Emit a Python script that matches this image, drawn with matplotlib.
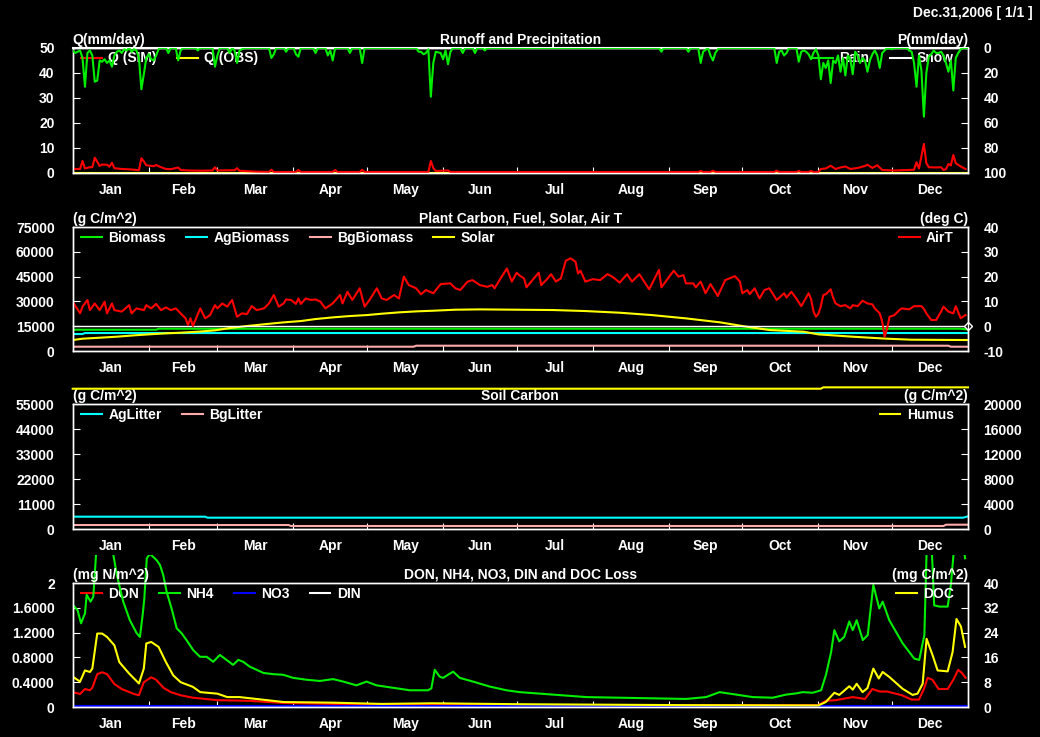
import numpy as np
import matplotlib.pyplot as plt
from matplotlib.lines import Line2D
from matplotlib.patches import Rectangle

plt.rcParams['font.family'] = ['Liberation Sans', 'DejaVu Sans']
plt.rcParams['font.weight'] = 'bold'
plt.rcParams['font.size'] = 10

month_names = ['Jan', 'Feb', 'Mar', 'Apr', 'May', 'Jun',
               'Jul', 'Aug', 'Sep', 'Oct', 'Nov', 'Dec']
month_len = [31, 28, 31, 30, 31, 30, 31, 31, 30, 31, 30, 31]
stamp = 'Dec.31,2006 [ 1/1 ]'

# ---- Runoff and precipitation (day, mm/day)
q_sim = [(0, 1.6), (3, 1.6), (4, 4.8), (5, 1.8), (7, 2.3), (8, 2.3), (9, 6.1), (10, 4.5), (11, 2.8),
         (12, 3.4), (13, 3.3), (14, 3.3), (15, 2.5), (16, 4.1), (17, 1.9), (20, 1.6), (24, 1.4),
         (27, 1.1), (28, 5.9), (29, 4.6), (30, 3.1), (33, 2.7), (34, 3.2), (36, 2.3), (38, 1.6),
         (40, 1.5), (43, 2.2), (44, 1.2), (47, 1.0), (52, 0.9), (57, 1.0), (58, 2.3), (59, 1.0),
         (66, 1.1), (67, 1.9), (68, 0.9), (75, 0.5), (80, 0.4), (81, 1.3), (82, 0.4), (91, 0.4),
         (92, 1.2), (93, 0.4), (106, 0.4), (107, 1.2), (108, 0.4), (117, 0.4), (118, 1.3), (119, 0.4),
         (145, 0.4), (146, 4.8), (147, 2.0), (148, 0.8), (153, 1.0), (154, 0.4), (255, 0.4), (256, 0.8),
         (257, 0.4), (260, 0.4), (261, 0.9), (262, 0.4), (286, 0.4), (287, 0.9), (288, 0.4), (295, 0.4),
         (296, 0.8), (297, 0.4), (300, 0.4), (301, 0.8), (302, 0.4), (304, 0.4), (305, 1.6), (307, 1.8),
         (309, 2.9), (311, 1.6), (313, 2.2), (315, 2.6), (317, 1.6), (320, 2.0), (323, 2.8), (324, 3.3),
         (326, 2.0), (328, 3.1), (330, 1.2), (335, 1.0), (341, 1.2), (343, 1.3), (344, 4.3), (345, 1.8),
         (347, 11.6), (348, 4.0), (349, 2.3), (352, 2.2), (354, 2.3), (355, 1.2), (356, 1.5), (357, 3.6),
         (358, 3.0), (359, 7.2), (360, 3.9), (362, 2.6), (364, 1.6)]
q_obs = [(0, 0.0), (365, 0.0)]
rain = [(0, 2), (1, 4), (2, 3), (3, 2), (4, 8), (5, 31), (6, 4), (7, 2), (8, 6), (9, 27), (10, 26),
        (11, 10), (12, 11), (13, 9), (14, 12), (15, 10), (16, 15), (17, 6), (18, 3), (19, 2), (20, 4),
        (21, 1), (22, 2), (23, 0), (24, 3), (25, 1), (26, 2), (27, 8), (28, 33), (29, 21), (30, 8),
        (31, 5), (32, 9), (33, 10), (34, 6), (35, 1), (36, 0), (38, 0), (39, 4), (40, 0), (42, 0),
        (43, 10), (44, 2), (45, 0), (50, 0), (51, 2), (52, 0), (57, 0), (58, 15), (59, 6), (60, 0),
        (63, 0), (64, 4), (65, 0), (66, 2), (67, 12), (68, 2), (69, 1), (70, 0), (80, 0), (81, 8),
        (82, 5), (83, 0), (86, 0), (87, 3), (88, 0), (90, 0), (91, 5), (92, 7), (93, 0), (98, 0),
        (99, 4), (100, 0), (103, 0), (104, 6), (105, 2), (106, 10), (107, 0), (112, 0), (113, 4),
        (114, 0), (117, 0), (118, 12), (119, 0), (140, 0), (141, 3), (142, 3), (143, 5), (144, 4),
        (145, 1), (146, 39), (147, 12), (148, 3), (150, 4), (151, 9), (152, 2), (153, 13), (154, 3),
        (155, 0), (158, 0), (159, 4), (160, 0), (163, 0), (164, 4), (165, 0), (167, 0), (168, 2),
        (169, 0), (239, 0), (240, 3), (241, 0), (250, 0), (251, 3), (252, 0), (255, 0), (256, 12),
        (257, 3), (259, 0), (260, 6), (261, 10), (262, 4), (263, 1), (264, 0), (286, 0), (287, 12),
        (288, 3), (289, 2), (290, 6), (291, 4), (292, 0), (295, 0), (296, 11), (297, 3), (298, 2),
        (299, 3), (300, 5), (301, 9), (302, 4), (303, 1), (304, 6), (305, 25), (306, 12), (307, 16),
        (308, 10), (309, 28), (310, 10), (311, 12), (312, 6), (313, 19), (314, 8), (315, 22),
        (316, 6), (317, 9), (318, 21), (319, 3), (320, 6), (321, 12), (322, 8), (323, 10), (324, 19),
        (325, 10), (326, 5), (327, 2), (328, 6), (329, 16), (330, 4), (331, 2), (332, 0), (334, 1),
        (335, 0), (340, 0), (341, 2), (342, 3), (343, 12), (344, 31), (345, 6), (346, 18), (347, 55),
        (348, 20), (349, 7), (350, 5), (351, 2), (352, 4), (353, 4), (354, 3), (355, 6), (356, 12),
        (357, 19), (358, 10), (359, 34), (360, 8), (361, 4), (362, 1), (363, 0), (365, 0)]
snow = [(0, 0), (365, 0)]

# ---- Plant carbon (g C/m^2), solar, air temperature (deg C)
biomass = [(0, 12900), (34, 12900), (35, 13500), (362, 13500), (365, 13000)]
ag_biomass = [(0, 10280), (4, 10280), (5, 10890), (365, 10890)]
bg_biomass = [(0, 2620), (139, 2620), (140, 3220), (357, 3220), (358, 2620), (365, 2620)]
solar = [(0, 6650), (4, 7460), (11, 8060), (18, 8670), (25, 9480), (31, 10080), (38, 10690),
         (44, 11090), (52, 11800), (58, 12500), (64, 13900), (71, 15120), (79, 16330), (86, 17340),
         (93, 18140), (99, 19350), (106, 20360), (113, 21170), (120, 21770), (126, 22580),
         (133, 23390), (140, 23990), (147, 24390), (156, 25000), (166, 25200), (196, 24800),
         (209, 24190), (223, 23180), (236, 21770), (250, 19760), (264, 17340), (273, 15120),
         (284, 12700), (298, 11690), (304, 10080), (318, 8670), (332, 7460), (342, 6850), (365, 6650)]
air_t = [(0, 9.9), (3, 5.2), (4, 7.9), (6, 10.6), (7, 6.5), (9, 9.2), (11, 6.5), (13, 9.9), (14, 5.2),
         (16, 9.2), (17, 6.5), (20, 5.9), (23, 8.5), (24, 5.2), (26, 7.2), (29, 6.5), (30, 8.5),
         (32, 7.2), (34, 9.0), (36, 6.5), (38, 7.6), (40, 6.5), (42, 7.2), (44, 5.2), (46, 3.2),
         (47, 0.5), (48, 3.2), (49, 0.1), (50, 2.5), (52, 7.2), (54, 3.2), (56, 4.5), (58, 8.5),
         (59, 7.2), (61, 9.2), (63, 7.9), (65, 10.6), (67, 3.8), (69, 5.2), (71, 4.9), (73, 8.1),
         (75, 6.5), (78, 7.2), (80, 9.2), (82, 12.6), (84, 7.9), (86, 9.2), (87, 10.8), (89, 10.6),
         (91, 9.0), (92, 11.2), (93, 9.0), (95, 11.2), (97, 10.6), (99, 10.8), (101, 9.9), (103, 7.2),
         (106, 9.2), (109, 12.6), (110, 9.2), (112, 13.9), (114, 10.6), (117, 15.3), (119, 7.9),
         (121, 10.6), (124, 15.3), (126, 11.2), (128, 10.6), (131, 12.6), (133, 11.2), (135, 20.0),
         (137, 16.6), (140, 15.3), (142, 12.9), (144, 14.6), (147, 13.3), (150, 17.0), (154, 17.3),
         (156, 15.3), (158, 14.6), (161, 18.0), (163, 18.6), (166, 16.6), (169, 15.9), (171, 16.6),
         (172, 15.3), (174, 18.6), (177, 23.3), (179, 18.0), (181, 21.6), (182, 20.6), (184, 19.3),
         (185, 15.7), (188, 19.3), (190, 21.6), (191, 16.6), (193, 18.6), (195, 21.0), (197, 18.0),
         (199, 19.3), (201, 26.4), (203, 27.4), (205, 26.0), (206, 21.3), (207, 22.4), (209, 18.0),
         (212, 19.0), (215, 18.6), (218, 21.0), (220, 20.0), (223, 17.6), (226, 21.0), (228, 18.0),
         (231, 21.0), (235, 14.9), (239, 22.7), (240, 15.7), (245, 22.4), (247, 20.0), (249, 20.6),
         (250, 17.3), (253, 17.3), (254, 15.7), (256, 18.0), (258, 13.3), (260, 17.0), (263, 12.2),
         (266, 18.6), (270, 20.2), (272, 18.0), (273, 13.3), (275, 14.6), (276, 13.0), (278, 15.3),
         (280, 11.2), (282, 14.6), (284, 15.3), (287, 10.6), (290, 13.3), (291, 11.6), (293, 13.9),
         (295, 11.2), (297, 8.1), (299, 11.6), (300, 13.3), (301, 11.0), (302, 6.0), (303, 3.8),
         (304, 5.0), (305, 8.1), (306, 12.6), (307, 12.9), (309, 14.9), (310, 11.5), (311, 9.2),
         (313, 8.1), (315, 8.5), (317, 7.2), (318, 8.5), (320, 8.1), (322, 10.3), (324, 9.2),
         (326, 8.8), (327, 7.2), (329, 5.2), (330, 2.0), (331, -4.2), (332, -1.0), (333, 3.8),
         (335, 4.5), (337, 6.5), (338, 7.2), (341, 6.8), (343, 8.1), (346, 8.1), (347, 7.0),
         (348, 5.2), (350, 2.5), (352, 2.5), (354, 5.9), (355, 7.9), (357, 5.9), (359, 5.2),
         (360, 8.1), (362, 3.2), (364, 4.5)]

# ---- Soil carbon (g C/m^2)
ag_litter = [(0, 5430), (54, 5430), (55, 4990), (363, 4990), (365, 5570)]
bg_litter = [(0, 1760), (88, 1760), (89, 1320), (355, 1320), (356, 1900), (365, 1900)]
humus = [(0, 22450), (305, 22450), (306, 22670), (365, 22670)]

# ---- N and C losses (mg N/m^2, mg C/m^2)
don = [(0, 0.24), (3, 0.21), (5, 0.29), (7, 0.27), (8, 0.31), (10, 0.53), (12, 0.56), (14, 0.53),
       (17, 0.37), (20, 0.29), (25, 0.21), (27, 0.19), (29, 0.40), (32, 0.48), (34, 0.44), (37, 0.31),
       (40, 0.24), (44, 0.19), (49, 0.15), (59, 0.11), (72, 0.10), (86, 0.065), (106, 0.05),
       (126, 0.03), (147, 0.04), (182, 0.03), (304, 0.03), (307, 0.10), (311, 0.11), (318, 0.16),
       (323, 0.13), (326, 0.29), (329, 0.25), (332, 0.25), (338, 0.19), (342, 0.12), (345, 0.12),
       (347, 0.29), (348.5, 0.47), (350.5, 0.44), (353, 0.29), (356.7, 0.29), (359, 0.44),
       (361, 0.60), (362.5, 0.55), (364, 0.47)]
nh4 = [(0, 1.65), (2, 1.56), (3.4, 1.35), (5, 1.51), (5.7, 1.81), (7.3, 1.70), (8.4, 1.78),
       (9.5, 2.45), (11, 2.9), (13, 3.1), (15, 2.9), (16.6, 2.45), (18, 2.13), (20.6, 1.70),
       (23.3, 1.40), (26.1, 1.19), (27.4, 1.13), (28.5, 1.48), (29.2, 1.75), (30.2, 2.40),
       (31.5, 2.47), (34.2, 2.37), (35.6, 2.29), (36.9, 2.13), (38.3, 1.86), (40.3, 1.59),
       (42.4, 1.27), (44.4, 1.19), (46.4, 1.08), (49.1, 0.92), (51.9, 0.81), (54.6, 0.81),
       (57.3, 0.73), (60, 0.84), (62.7, 0.76), (65.4, 0.68), (67.5, 0.76), (69.5, 0.73),
       (72.2, 0.65), (75, 0.60), (77.7, 0.55), (81.7, 0.53), (85.8, 0.52), (89.9, 0.47),
       (95.3, 0.44), (100.7, 0.42), (106.2, 0.45), (110.3, 0.41), (115.7, 0.35), (119.8, 0.41),
       (123.8, 0.35), (130.6, 0.31), (137.4, 0.27), (144.9, 0.27), (146.2, 0.30), (147.6, 0.60),
       (149.6, 0.49), (151, 0.47), (153, 0.52), (155.1, 0.57), (157.8, 0.47), (163.2, 0.41),
       (170, 0.33), (176.8, 0.27), (182.2, 0.24), (195.8, 0.20), (209.4, 0.16), (222.9, 0.15),
       (236.5, 0.14), (250.1, 0.13), (258.2, 0.16), (263.7, 0.24), (270.5, 0.20), (277.2, 0.16),
       (285.4, 0.15), (290.8, 0.20), (295, 0.22), (297.6, 0.24), (301.7, 0.23), (305.1, 0.27),
       (307.1, 0.52), (309.2, 0.89), (310.5, 1.24), (312.5, 1.06), (314.5, 1.13), (316.6, 1.38),
       (318, 1.24), (319.6, 1.40), (322.1, 1.08), (324.1, 1.16), (326.4, 1.97), (328.8, 1.59),
       (330.2, 1.70), (332.9, 1.40), (338.3, 1.03), (343.1, 0.78), (345.1, 0.76), (347.2, 1.16),
       (348.1, 2.5), (349.5, 3.0), (350.5, 2.3), (351.2, 1.64), (353.3, 1.62), (356.7, 1.62),
       (358, 1.97), (359.4, 2.6), (361, 3.0), (362.8, 2.7), (363.8, 2.4)]
no3 = [(0, 0.015), (365, 0.015)]
doc = [(0, 9.8), (3, 8.2), (5, 11.8), (7, 11.3), (8, 12.4), (10, 23.7), (12, 23.7), (14, 22.6),
       (17, 19.9), (19, 14.5), (23, 10.8), (27, 7.6), (29, 12.4), (30, 20.5), (32, 21.0), (35, 19.4),
       (38, 14.5), (41, 10.2), (44, 8.0), (49, 6.5), (52, 4.8), (59, 4.3), (63, 3.2), (68, 3.2),
       (76, 2.5), (86, 1.6), (106, 1.4), (126, 1.0), (147, 1.2), (182, 0.9), (250, 0.6), (304, 0.5),
       (307, 1.6), (310.5, 4.6), (312.5, 3.9), (316.6, 6.7), (318, 5.6), (319.6, 7.5), (322, 4.8),
       (324, 6.1), (326.4, 12.4), (328.6, 9.2), (330.2, 11.3), (332.9, 9.7), (338.3, 5.9),
       (342.4, 3.9), (344.4, 4.3), (346.5, 7.5), (348.1, 22.0), (350.6, 16.6), (352.6, 11.8),
       (356.7, 11.5), (358.7, 17.7), (360.3, 28.4), (362.1, 26.0), (363.8, 19.4)]

n_ticks = [0, 0.4, 0.8, 1.2, 1.6, 2]
n_labels = ['0', '0.4000', '0.8000', '1.2000', '1.6000', '2']

FG = 'white'
LW = 1.5


def xy(pairs):
    a = np.array(pairs, dtype=float)
    return a[:, 0], a[:, 1]


fig = plt.figure(figsize=(10.4, 7.37), dpi=100, facecolor='black')
left, width = 0.0699, 0.8609
rows = [(0.7653, 0.1696), (0.5237, 0.1682), (0.2822, 0.1696), (0.0407, 0.1682)]

bounds = np.cumsum([0] + month_len)
mids = (bounds[:-1] + bounds[1:]) / 2


def make_panel(row, title, lunit, runit, lticks, llabels, rticks, rlabels):
    ax = fig.add_axes([left, rows[row][0], width, rows[row][1]])
    ax.set_facecolor('black')
    axr = ax.twinx()
    for a in (ax, axr):
        for s in a.spines.values():
            s.set_color(FG)
            s.set_linewidth(1.0)
    ax.set_xlim(0, 365)
    ax.set_xticks(bounds[1:-1])
    ax.set_xticklabels([])
    ax.set_xticks(mids, minor=True)
    ax.set_xticklabels(month_names, minor=True)
    ax.tick_params(axis='x', which='major', direction='in', length=4, color=FG, top=False)
    ax.tick_params(axis='x', which='minor', length=0, pad=7, labelcolor=FG, labelsize=10)
    ax.set_yticks(lticks)
    ax.set_yticklabels(llabels)
    ax.set_ylim(lticks[0], lticks[-1])
    ax.tick_params(axis='y', direction='in', length=5, color=FG, labelcolor=FG, pad=13)
    axr.set_yticks(rticks)
    axr.set_yticklabels(rlabels)
    axr.tick_params(axis='y', direction='in', length=5, color=FG, labelcolor=FG, pad=11)
    for lab in ax.get_yticklabels() + axr.get_yticklabels() + ax.get_xticklabels(minor=True):
        lab.set_fontweight('bold')
    ax.set_title(title, color=FG, pad=3, fontweight='bold', fontsize=10)
    ax.set_title(lunit, loc='left', color=FG, pad=3, fontweight='bold', fontsize=10)
    ax.set_title(runit, loc='right', color=FG, pad=3, fontweight='bold', fontsize=10)
    return ax, axr


def add_legend(ax, side, handles=None, labels=None):
    if handles is None:
        handles, labels = ax.get_legend_handles_labels()
    if side == 'left':
        loc, anchor = 'upper left', (0.0095, 0.972)
    else:
        loc, anchor = 'upper right', (0.984, 0.972)
    leg = ax.legend(handles, labels, loc=loc, bbox_to_anchor=anchor, ncol=len(handles),
                    frameon=False, handlelength=1.5, handletextpad=0.45, columnspacing=1.45,
                    borderaxespad=0, borderpad=0, prop={'weight': 'bold', 'size': 10},
                    labelcolor=FG)
    leg.set_zorder(1)
    return leg


def ticks(lo, hi, step):
    t = np.arange(lo, hi + step / 2, step)
    return t, ['%d' % v for v in t]


# Panel 1
lt, ll = ticks(0, 50, 10)
rt, rl = ticks(0, 100, 20)
ax1, ax1r = make_panel(0, 'Runoff and Precipitation', 'Q(mm/day)', 'P(mm/day)', lt, ll, rt, rl)
ax1r.set_ylim(100, 0)
h_obs, = ax1.plot(*xy(q_obs), color='yellow', lw=LW, label='Q (OBS)', zorder=2)
h_sim, = ax1.plot(*xy(q_sim), color='red', lw=LW, label='Q (SIM)', zorder=3)
add_legend(ax1, 'left', [h_sim, h_obs], ['Q (SIM)', 'Q (OBS)'])
h_snow, = ax1r.plot(*xy(snow), color='white', lw=LW, label='Snow', clip_on=False, zorder=2)
h_rain, = ax1r.plot(*xy(rain), color='#00ee00', lw=LW, label='Rain', zorder=3)
add_legend(ax1r, 'right', [h_rain, h_snow], ['Rain', 'Snow'])

# Panel 2
lt, ll = ticks(0, 75000, 15000)
rt, rl = ticks(-10, 40, 10)
ax2, ax2r = make_panel(1, 'Plant Carbon, Fuel, Solar, Air T', '(g C/m^2)', '(deg C)', lt, ll, rt, rl)
ax2r.set_ylim(-10, 40)
ax2.plot(*xy(biomass), color='#00ee00', lw=LW, label='Biomass')
ax2.plot(*xy(ag_biomass), color='cyan', lw=LW, label='AgBiomass')
ax2.plot(*xy(bg_biomass), color='#ffaaaa', lw=LW, label='BgBiomass')
ax2.plot(*xy(solar), color='yellow', lw=LW, label='Solar')
add_legend(ax2, 'left')
ax2r.axhline(0, color=FG, lw=1, marker='D', markevery=[1], ms=4, mfc='black', mec=FG, clip_on=False)
ax2r.plot(*xy(air_t), color='red', lw=LW, label='AirT')
add_legend(ax2r, 'right')

# Panel 3
lt, ll = ticks(0, 55000, 11000)
rt, rl = ticks(0, 20000, 4000)
ax3, ax3r = make_panel(2, 'Soil Carbon', '(g C/m^2)', '(g C/m^2)', lt, ll, rt, rl)
ax3r.set_ylim(0, 20000)
ax3.plot(*xy(ag_litter), color='cyan', lw=LW, label='AgLitter')
ax3.plot(*xy(bg_litter), color='#ffaaaa', lw=LW, label='BgLitter')
add_legend(ax3, 'left')
ax3r.plot(*xy(humus), color='yellow', lw=LW, label='Humus', clip_on=False)
add_legend(ax3r, 'right')

# Panel 4
rt, rl = ticks(0, 40, 8)
ax4, ax4r = make_panel(3, 'DON, NH4, NO3, DIN and DOC Loss', '(mg N/m^2)', '(mg C/m^2)',
                       n_ticks, n_labels, rt, rl)
ax4r.set_ylim(0, 40)
lines = []
lines += ax4.plot(*xy(don), color='red', lw=LW, label='DON')
lines += ax4.plot(*xy(nh4), color='#00ee00', lw=LW, label='NH4')
lines += ax4.plot(*xy(no3), color='blue', lw=LW, label='NO3')
din_handle = Line2D([], [], color='white', lw=LW)
h, l = ax4.get_legend_handles_labels()
add_legend(ax4, 'left', h + [din_handle], l + ['DIN'])
lines += ax4r.plot(*xy(doc), color='yellow', lw=LW, label='DOC')
add_legend(ax4r, 'right')
for ln in lines:
    clip = Rectangle((0, 0), 1, 1.226, transform=ln.axes.transAxes)
    ln.set_clip_path(clip)

fig.text(0.993, 0.982, stamp, color=FG, ha='right', va='center', fontweight='bold', fontsize=10)

fig.savefig('out.png', dpi=100, facecolor='black')
